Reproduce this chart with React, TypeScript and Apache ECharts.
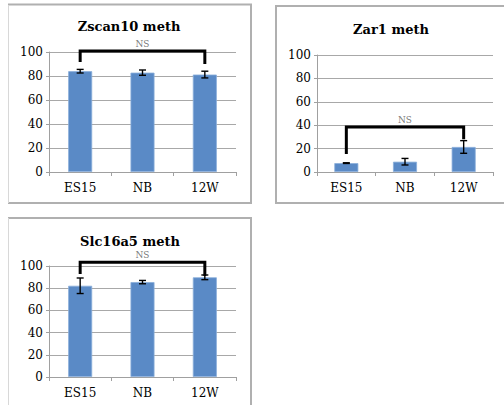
import React, { useEffect, useRef } from "react";
import * as echarts from "echarts";

const categories = ["ES15", "NB", "12W"];
const yTicks = { min: 0, max: 100, interval: 20 };

const zscan10Title = "Zscan10 meth";
const zscan10Mean = [84, 82.8, 81.2];
const zscan10Err = [1.5, 2.2, 2.8];
const zscan10Bracket = [91.7, 100.8, 100.8, 90];

const zar1Title = "Zar1 meth";
const zar1Mean = [7.6, 8.8, 21.4];
const zar1Err = [0.3, 2.8, 5.4];
const zar1Bracket = [15.4, 38.5, 38.5, 28];

const slcTitle = "Slc16a5 meth";
const slcMean = [82.2, 85.5, 89.8];
const slcErr = [7, 1.5, 2.1];
const slcBracket = [92.8, 103.3, 103.3, 91];

const sigLabel = "NS";

const FONT = "DejaVu Serif";

export default function App() {
  const ref = useRef<HTMLDivElement>(null);
  useEffect(() => {
    if (!ref.current) return;
    const chart = echarts.init(ref.current, null, { renderer: "svg" });

    const panels = [
      { title: zscan10Title, mean: zscan10Mean, err: zscan10Err, bracket: zscan10Bracket,
        grid: { left: 49, right: 268, top: 52, bottom: 233 }, titlePos: { left: 129, top: 18 } },
      { title: zar1Title, mean: zar1Mean, err: zar1Err, bracket: zar1Bracket,
        grid: { left: 317, right: 11, top: 55, bottom: 233 }, titlePos: { left: 391, top: 21 } },
      { title: slcTitle, mean: slcMean, err: slcErr, bracket: slcBracket,
        grid: { left: 49, right: 268, top: 266, bottom: 28 }, titlePos: { left: 130, top: 233 } },
    ];

    const grid: any[] = [];
    const xAxis: any[] = [];
    const yAxis: any[] = [];
    const title: any[] = [];
    const series: any[] = [];

    panels.forEach((p, i) => {
      grid.push(p.grid);
      title.push({
        text: p.title,
        left: p.titlePos.left,
        top: p.titlePos.top,
        padding: 0,
        textAlign: "center",
        textStyle: { fontFamily: FONT, fontSize: 13, fontWeight: "bold", color: "#000", lineHeight: 16 },
      });
      xAxis.push({
        type: "category",
        gridIndex: i,
        data: categories,
        axisLine: { lineStyle: { color: "#a0a0a0" } },
        axisTick: { show: true, length: 4, lineStyle: { color: "#a0a0a0" } },
        axisLabel: { fontFamily: FONT, fontSize: 12, color: "#000", margin: 10 },
      });
      yAxis.push({
        type: "value",
        gridIndex: i,
        min: yTicks.min,
        max: yTicks.max,
        interval: yTicks.interval,
        axisLine: { show: true, lineStyle: { color: "#a0a0a0" } },
        axisTick: { show: true, length: 3, lineStyle: { color: "#a0a0a0" } },
        splitLine: { lineStyle: { color: "#a8a8a8", width: 1 } },
        axisLabel: { fontFamily: FONT, fontSize: 12, color: "#000", margin: 6 },
      });
      series.push({
        type: "bar",
        xAxisIndex: i,
        yAxisIndex: i,
        data: p.mean,
        barWidth: 24,
        itemStyle: { color: "#5a8ac6", borderColor: "#8aaedb", borderWidth: 0.8 },
        silent: true,
      });
      series.push({
        type: "custom",
        xAxisIndex: i,
        yAxisIndex: i,
        data: categories.map((_, k) => [k, p.mean[k], p.err[k]]),
        encode: { x: 0, y: 1 },
        z: 5,
        renderItem: (params: any, api: any) => {
          const x = api.value(0);
          const m = api.value(1);
          const e = api.value(2);
          const top = api.coord([x, m + e]);
          const bot = api.coord([x, m - e]);
          const hw = 3.5;
          const st = { stroke: "#000", lineWidth: 1.4 };
          return {
            type: "group",
            children: [
              { type: "line", shape: { x1: top[0], y1: top[1], x2: bot[0], y2: bot[1] }, style: st },
              { type: "line", shape: { x1: top[0] - hw, y1: top[1], x2: top[0] + hw, y2: top[1] }, style: st },
              { type: "line", shape: { x1: bot[0] - hw, y1: bot[1], x2: bot[0] + hw, y2: bot[1] }, style: st },
            ],
          };
        },
      });
      series.push({
        type: "line",
        xAxisIndex: i,
        yAxisIndex: i,
        data: [[0, p.bracket[0]], [0, p.bracket[1]], [2, p.bracket[2]], [2, p.bracket[3]]],
        symbol: "none",
        clip: false,
        z: 6,
        lineStyle: { color: "#000", width: 3, cap: "butt", join: "miter" },
        silent: true,
      });
      series.push({
        type: "scatter",
        xAxisIndex: i,
        yAxisIndex: i,
        data: [[1, p.bracket[1]]],
        symbolSize: 0,
        clip: false,
        silent: true,
        label: {
          show: true,
          position: "top",
          distance: 2,
          formatter: sigLabel,
          fontFamily: FONT,
          fontSize: 9,
          lineHeight: 10,
          color: "#555",
        },
      });
    });

    const border = "#b0b0b0";
    const light = "#d8d8d8";
    const graphic = [
      { type: "line", shape: { x1: 8, y1: 4.5, x2: 252, y2: 4.5 }, style: { stroke: border, lineWidth: 2 } },
      { type: "line", shape: { x1: 251, y1: 4, x2: 251, y2: 203 }, style: { stroke: border, lineWidth: 2 } },
      { type: "line", shape: { x1: 8, y1: 203, x2: 252, y2: 203 }, style: { stroke: border, lineWidth: 2 } },
      { type: "line", shape: { x1: 8.5, y1: 5, x2: 8.5, y2: 203 }, style: { stroke: light, lineWidth: 1 } },
      { type: "line", shape: { x1: 275, y1: 6, x2: 505, y2: 6 }, style: { stroke: border, lineWidth: 2 } },
      { type: "line", shape: { x1: 276, y1: 5, x2: 276, y2: 204 }, style: { stroke: border, lineWidth: 2 } },
      { type: "line", shape: { x1: 275, y1: 203, x2: 505, y2: 203 }, style: { stroke: border, lineWidth: 2 } },
      { type: "line", shape: { x1: 8, y1: 218, x2: 252, y2: 218 }, style: { stroke: border, lineWidth: 2 } },
      { type: "line", shape: { x1: 251, y1: 217, x2: 251, y2: 406 }, style: { stroke: border, lineWidth: 2 } },
      { type: "line", shape: { x1: 8.5, y1: 218, x2: 8.5, y2: 406 }, style: { stroke: light, lineWidth: 1 } },
    ];

    chart.setOption({
      animation: false,
      backgroundColor: "#fff",
      title,
      grid,
      xAxis,
      yAxis,
      series,
      graphic,
    });
    return () => chart.dispose();
  }, []);

  return (
    <div
      ref={ref}
      style={{ position: "fixed", left: 0, top: 0, width: 504, height: 405 }}
    />
  );
}
